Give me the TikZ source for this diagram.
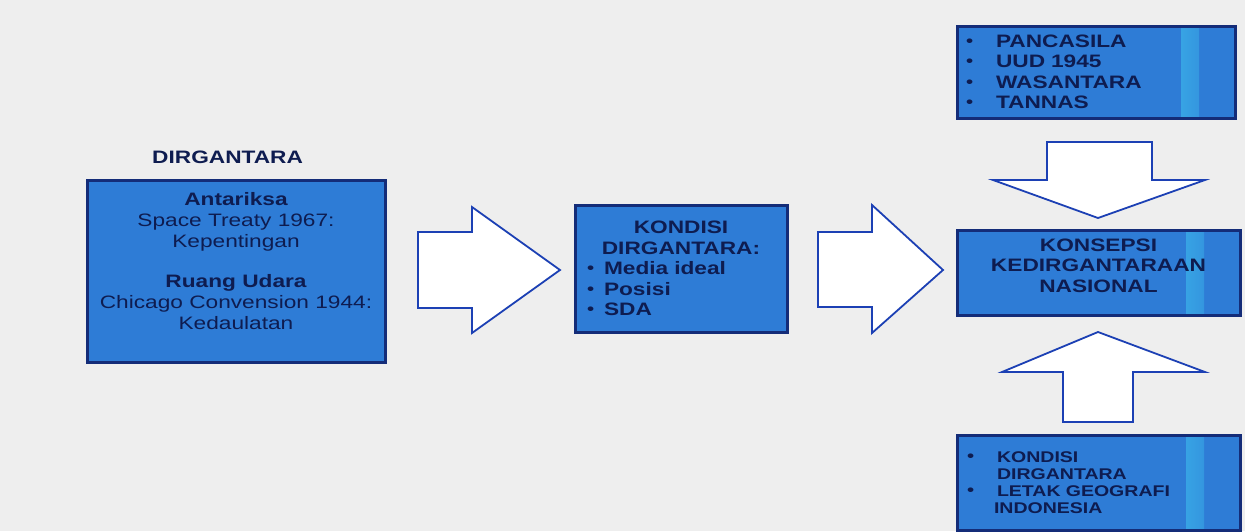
\documentclass[tikz,border=0pt]{standalone}
\usepackage{fontspec}
\setmainfont[FakeStretch=1.26]{Liberation Sans}
\usepackage{tikz}

\definecolor{boxblue}{RGB}{46,124,214}
\definecolor{boxedge}{RGB}{20,44,120}
\definecolor{inkblue}{RGB}{14,28,80}
\definecolor{arrowedge}{RGB}{28,64,180}
\definecolor{stripecyan}{RGB}{70,225,250}
\definecolor{paper}{RGB}{238,238,238}

\newcommand{\bul}[1][30pt]{\makebox[#1][l]{\fontsize{16}{16}\selectfont\raisebox{1pt}{•}}}

\begin{document}
\begin{tikzpicture}[x=1pt, y=-1pt,
        infobox/.style={draw=boxedge, line width=3pt, fill=boxblue, text=inkblue,
            font=\bfseries\fontsize{18}{20.5}\selectfont},
        stripebox/.style={infobox, path picture={
            \shade[left color=boxblue, right color=boxblue, middle color=stripecyan]
                ([xshift=-54pt]path picture bounding box.north east)
                rectangle ([xshift=-36pt]path picture bounding box.south east);}},
        blockarrow/.style={draw=arrowedge, line width=1.8pt, fill=white, line join=miter}]
        \useasboundingbox (0,0) rectangle (1245,531);
        \fill[paper] (0,0) rectangle (1245,531);

        % left side
        \node[font=\bfseries\fontsize{18}{20}\selectfont, text=inkblue, anchor=base west, inner sep=0pt] (judul) at (152, 163) {DIRGANTARA};
        \node[infobox, minimum width=298pt, minimum height=182pt, align=center, text depth=21pt,
            font=\bfseries\fontsize{18}{21}\selectfont] (dirgantara) at (236, 271)
            {Antariksa\\ {\mdseries Space Treaty 1967:}\\ {\mdseries Kepentingan}\\[19pt]
             Ruang Udara\\ {\mdseries Chicago Convension 1944:}\\ {\mdseries Kedaulatan}};
        \draw[blockarrow] (418, 232) -- (472, 232) -- (472, 207) -- (560, 270) -- (472, 333) -- (472, 308) -- (418, 308) -- cycle;

        % middle
        \node[infobox, text width=188pt, inner xsep=12pt, minimum height=127pt, align=left] (kondisi) at (681, 268.5)
            {{\centering KONDISI\\ DIRGANTARA:\par}
             \bul[17pt]Media ideal\\ \bul[17pt]Posisi\\ \bul[17pt]SDA};
        \draw[blockarrow] (818, 232) -- (872, 232) -- (872, 205) -- (943, 270) -- (872, 333) -- (872, 307) -- (818, 307) -- cycle;

        % right side
        \node[stripebox, text width=260pt, inner xsep=9pt, minimum height=92pt, align=left] (landasan) at (1096, 72)
            {\bul PANCASILA\\ \bul UUD 1945\\ \bul WASANTARA\\ \bul TANNAS};
        \draw[blockarrow] (1047, 142) -- (1152, 142) -- (1152, 180) -- (1205, 180) -- (1098, 218) -- (993, 180) -- (1047, 180) -- cycle;
        \node[stripebox, minimum width=283pt, minimum height=85pt, align=center, text depth=14pt] (konsepsi) at (1098.5, 272.5)
            {KONSEPSI\\ KEDIRGANTARAAN\\ NASIONAL};
        \draw[blockarrow] (1063, 422) -- (1133, 422) -- (1133, 372) -- (1205, 372) -- (1098, 332) -- (1002, 372) -- (1063, 372) -- cycle;
        \node[stripebox, text width=263pt, inner xsep=10pt, minimum height=95pt, align=left,
            font=\bfseries\fontsize{15.5}{17}\selectfont] (geografi) at (1098.5, 482.5)
            {\bul KONDISI\\ \hspace*{30pt}DIRGANTARA\\ \bul LETAK GEOGRAFI\\ \hspace*{27pt}INDONESIA};
    \end{tikzpicture}
\end{document}
